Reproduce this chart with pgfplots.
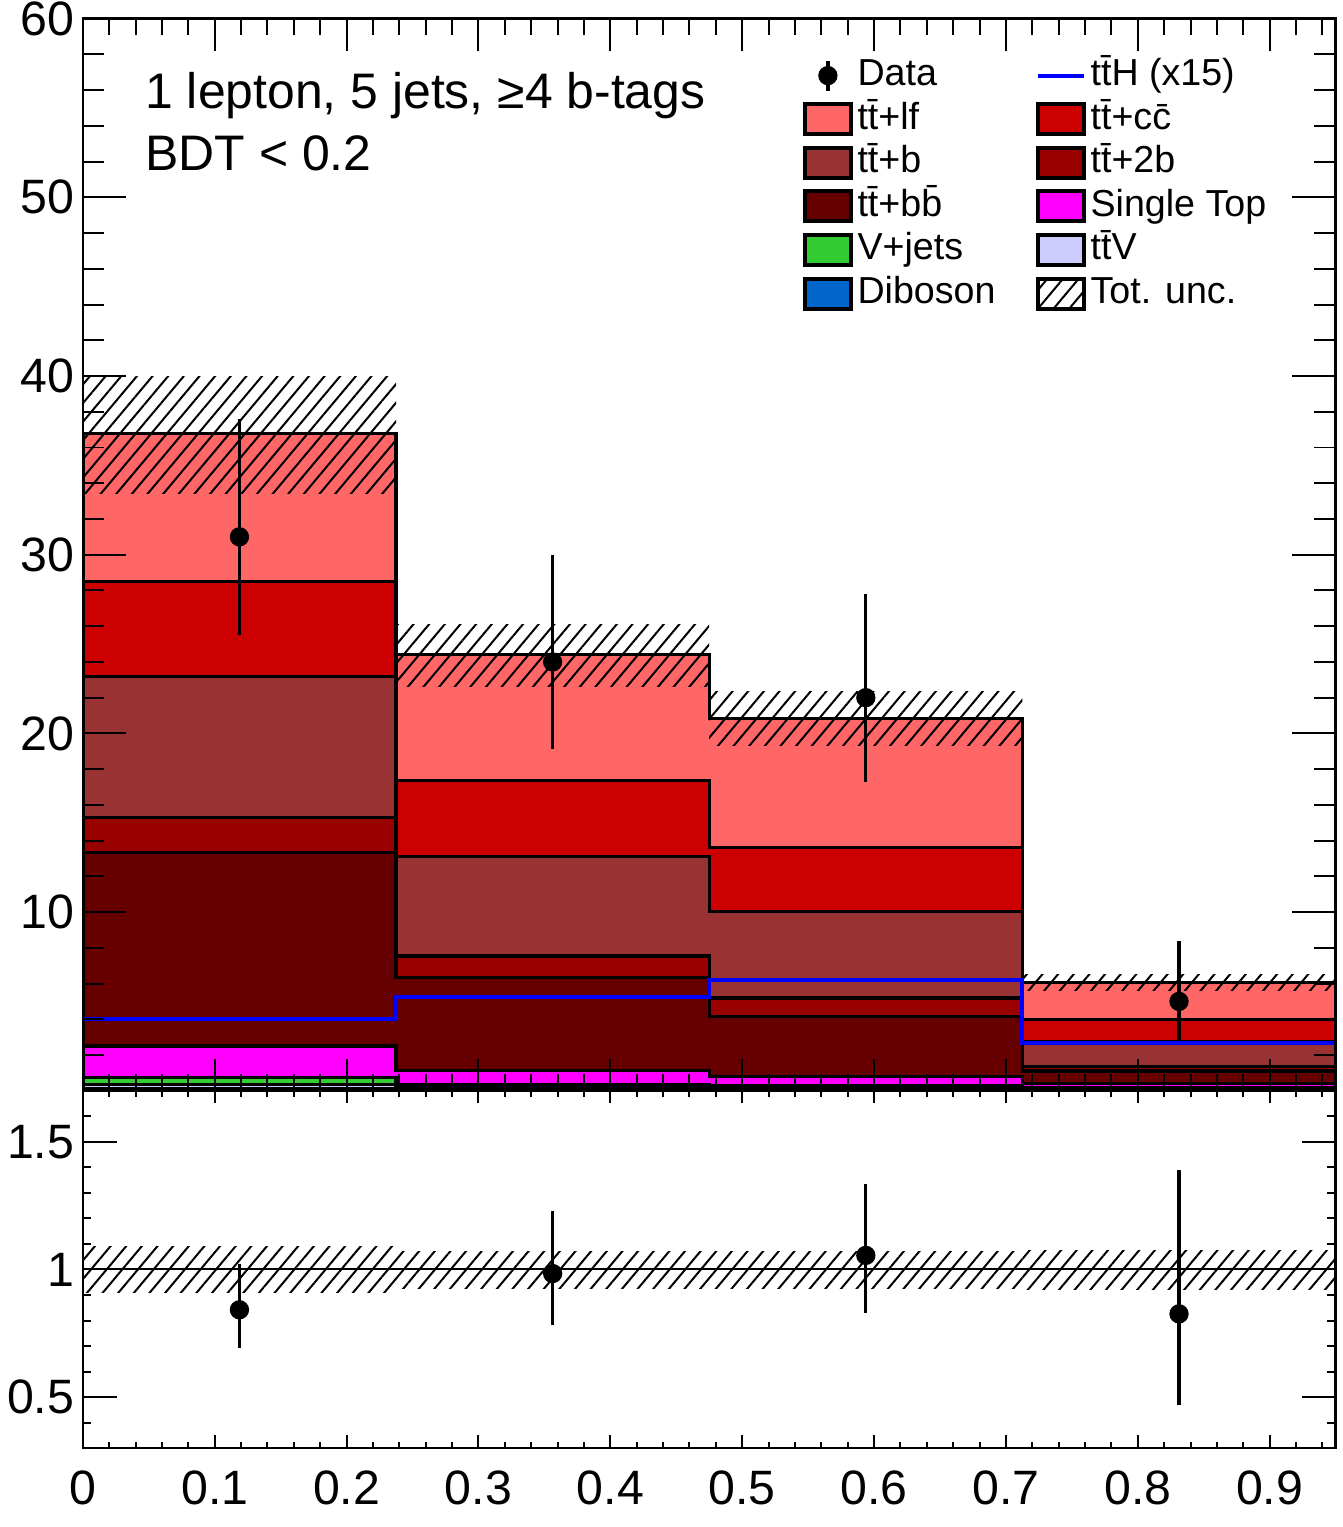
\documentclass[border=0pt]{standalone}
\usepackage{fontspec}
\setmainfont{Liberation Sans}
\usepackage{pgfplots}
\pgfplotsset{compat=1.18}
\usepackage{pgfplotstable}
\usetikzlibrary{patterns.meta}

\definecolor{ttlf}{HTML}{FF6666}
\definecolor{ttcc}{HTML}{CC0000}
\definecolor{ttb}{HTML}{993333}
\definecolor{tttwob}{HTML}{990000}
\definecolor{ttbb}{HTML}{660000}
\definecolor{stop}{HTML}{FF00FF}
\definecolor{vjets}{HTML}{33CC33}
\definecolor{ttv}{HTML}{CCCCFF}
\definecolor{dibos}{HTML}{0066CC}

\newcommand{\ttbar}{t\={t}}

% cumulative stack tops per bin (last row repeats the last bin)
\pgfplotstableread{
x      lf    cc    b     twob  bb    st    vj    ttv   db    tth
0      36.8  28.5  23.2  15.3  13.35 2.5   0.75  0.35  0.1   4.0
0.2375 24.4  17.35 13.1  7.55  6.35  1.15  0.35  0.2   0.05  5.25
0.475  20.85 13.6  10.05 5.2   4.15  0.8   0.3   0.15  0.05  6.2
0.7125 6.05  4.0   2.75  1.37  1.1   0.4   0.2   0.1   0.03  2.65
0.95   6.05  4.0   2.75  1.37  1.1   0.4   0.2   0.1   0.03  2.65
}\stack

\pgfplotstableread{
x       y   ep   em
0.11875 31  6.6  5.5
0.35625 24  6.0  4.9
0.59375 22  5.8  4.7
0.83125 5   3.4  2.2
}\data

\pgfplotstableread{
x       y     ep    em
0.11875 0.842 0.179 0.149
0.35625 0.984 0.246 0.201
0.59375 1.055 0.278 0.226
0.83125 0.826 0.562 0.357
}\ratio

\tikzset{hatch/.style={pattern={Lines[angle=50,distance=3.6pt,line width=0.6pt]}}}

\pgfplotsset{
  boxleg/.style={legend image code/.code={
    \draw[fill=#1, line width=1.2pt] (0pt,-4.5pt) rectangle (14pt,4.5pt);}},
  rootaxis/.style={
    scale only axis, width=376.5pt,
    xmin=0, xmax=0.95,
    axis on top,
    axis line style={line width=0.8pt},
    tick pos=both, tick align=inside,
    every tick/.style={black, line width=0.6pt},
    xtick={0,0.1,0.2,0.3,0.4,0.5,0.6,0.7,0.8,0.9},
    minor xtick={0,0.02,...,0.95},
    ticklabel style={font=\fontsize{14.5}{16}\selectfont},
    /pgf/number format/assume math mode=true,
    yticklabel style={inner sep=0pt, xshift=-2.4pt},
    xticklabel style={inner sep=0pt, yshift=-6.6pt},
  },
}

\begin{document}
\begin{tikzpicture}
\begin{axis}[rootaxis,
  at={(0,0)}, anchor=south west,
  height=322.2pt,
  ymin=0, ymax=60,
  xticklabels={},
  ytick={10,20,30,40,50,60},
  minor ytick={0,2,...,60},
  xtick style={/pgfplots/major tick length=9.6pt, /pgfplots/minor tick length=5pt},
  ytick style={/pgfplots/major tick length=13pt, /pgfplots/minor tick length=6.5pt},
  legend columns=2,
  legend cell align=left,
  legend style={at={(0.574,0.968)}, anchor=north west, draw=none, fill=none,
    font=\fontsize{11.3}{13}\selectfont, inner sep=0pt, row sep=-0.1pt,
    nodes={inner sep=1pt, text height=8.6pt, text depth=2.6pt}},
  /tikz/every odd column/.style={column sep=0.3pt},
  /tikz/every even column/.style={column sep=11.1pt},
]
\addlegendimage{legend image code/.code={
  \draw[black, line width=1pt] (7pt,-4.5pt) -- (7pt,4.5pt);
  \fill[black] (7pt,0pt) circle (2.7pt);}}
\addlegendentry{Data}
\addlegendimage{legend image code/.code={
  \draw[blue, line width=1.2pt] (0pt,0pt) -- (14pt,0pt);}}
\addlegendentry{\ttbar H (x15)}
\addlegendimage{boxleg=ttlf}   \addlegendentry{\ttbar+lf}
\addlegendimage{boxleg=ttcc}   \addlegendentry{\ttbar+c\={c}}
\addlegendimage{boxleg=ttb}    \addlegendentry{\ttbar+b}
\addlegendimage{boxleg=tttwob} \addlegendentry{\ttbar+2b}
\addlegendimage{boxleg=ttbb}   \addlegendentry{\ttbar+b\={b}}
\addlegendimage{boxleg=stop}   \addlegendentry{Single Top}
\addlegendimage{boxleg=vjets}  \addlegendentry{V+jets}
\addlegendimage{boxleg=ttv}    \addlegendentry{\ttbar V}
\addlegendimage{boxleg=dibos}  \addlegendentry{Diboson}
\addlegendimage{legend image code/.code={
  \draw[hatch, line width=1.2pt] (0pt,-4.5pt) rectangle (14pt,4.5pt);}}
\addlegendentry{Tot. unc.}

% stacked backgrounds, drawn from the top of the stack down
\addplot[const plot, fill=ttlf,   draw=black, line width=1pt, forget plot] table[x=x,y=lf]{\stack} \closedcycle;
\addplot[const plot, fill=ttcc,   draw=black, line width=1pt, forget plot] table[x=x,y=cc]{\stack} \closedcycle;
\addplot[const plot, fill=ttb,    draw=black, line width=1pt, forget plot] table[x=x,y=b]{\stack} \closedcycle;
\addplot[const plot, fill=tttwob, draw=black, line width=1pt, forget plot] table[x=x,y=twob]{\stack} \closedcycle;
\addplot[const plot, fill=ttbb,   draw=black, line width=1pt, forget plot] table[x=x,y=bb]{\stack} \closedcycle;
\addplot[const plot, fill=stop,   draw=black, line width=1pt, forget plot] table[x=x,y=st]{\stack} \closedcycle;
\addplot[const plot, fill=vjets,  draw=black, line width=1pt, forget plot] table[x=x,y=vj]{\stack} \closedcycle;
\addplot[const plot, fill=ttv,    draw=black, line width=1pt, forget plot] table[x=x,y=ttv]{\stack} \closedcycle;
\addplot[const plot, fill=dibos,  draw=black, line width=1pt, forget plot] table[x=x,y=db]{\stack} \closedcycle;

% total uncertainty, one band per bin
\addplot[hatch, draw=none, forget plot] coordinates {(0,33.4) (0.2375,33.4) (0.2375,40.0) (0,40.0)} -- cycle;
\addplot[hatch, draw=none, forget plot] coordinates {(0.2375,22.6) (0.475,22.6) (0.475,26.1) (0.2375,26.1)} -- cycle;
\addplot[hatch, draw=none, forget plot] coordinates {(0.475,19.35) (0.7125,19.35) (0.7125,22.35) (0.475,22.35)} -- cycle;
\addplot[hatch, draw=none, forget plot] coordinates {(0.7125,5.6) (0.95,5.6) (0.95,6.5) (0.7125,6.5)} -- cycle;

% signal overlay
\addplot[const plot, blue, line width=1.2pt, forget plot] table[x=x,y=tth]{\stack};

% data
\addplot[only marks, mark=*, mark size=2.7pt, black, forget plot,
  error bars/.cd, y dir=both, y explicit, error mark=none,
  error bar style={line width=1pt}]
  table[x=x, y=y, y error plus=ep, y error minus=em]{\data};

\node[anchor=base west, inner sep=0pt, font=\fontsize{15}{17}\selectfont] at (axis cs:0.0469,55.0) {1 lepton, 5 jets, ≥4 b-tags};
\node[anchor=base west, inner sep=0pt, font=\fontsize{15}{17}\selectfont] at (axis cs:0.0469,51.5) {BDT < 0.2};
\end{axis}

\begin{axis}[rootaxis,
  at={(0,0)}, anchor=north west,
  height=107.4pt,
  ymin=0.3, ymax=1.7,
  ytick={0.5,1,1.5}, yticklabels={0.5,1,1.5},
  minor ytick={0.4,0.6,0.7,0.8,0.9,1.1,1.2,1.3,1.4,1.6},
  xticklabels={0,0.1,0.2,0.3,0.4,0.5,0.6,0.7,0.8,0.9},
  xtick style={/pgfplots/major tick length=3.8pt, /pgfplots/minor tick length=1.9pt},
  ytick style={/pgfplots/major tick length=10.2pt, /pgfplots/minor tick length=2.5pt},
]
\addplot[hatch, draw=none] coordinates {(0,0.91) (0.2375,0.91) (0.2375,1.09) (0,1.09)} -- cycle;
\addplot[hatch, draw=none] coordinates {(0.2375,0.925) (0.475,0.925) (0.475,1.07) (0.2375,1.07)} -- cycle;
\addplot[hatch, draw=none] coordinates {(0.475,0.925) (0.7125,0.925) (0.7125,1.07) (0.475,1.07)} -- cycle;
\addplot[hatch, draw=none] coordinates {(0.7125,0.92) (0.95,0.92) (0.95,1.075) (0.7125,1.075)} -- cycle;
\addplot[black, line width=0.6pt] coordinates {(0,1) (0.95,1)};
\addplot[only marks, mark=*, mark size=2.7pt, black,
  error bars/.cd, y dir=both, y explicit, error mark=none,
  error bar style={line width=1pt}]
  table[x=x, y=y, y error plus=ep, y error minus=em]{\ratio};
\end{axis}

\pgfresetboundingbox
\path (-24.9pt,-131.1pt) rectangle (378.6pt,327.8pt);
\end{tikzpicture}
\end{document}
